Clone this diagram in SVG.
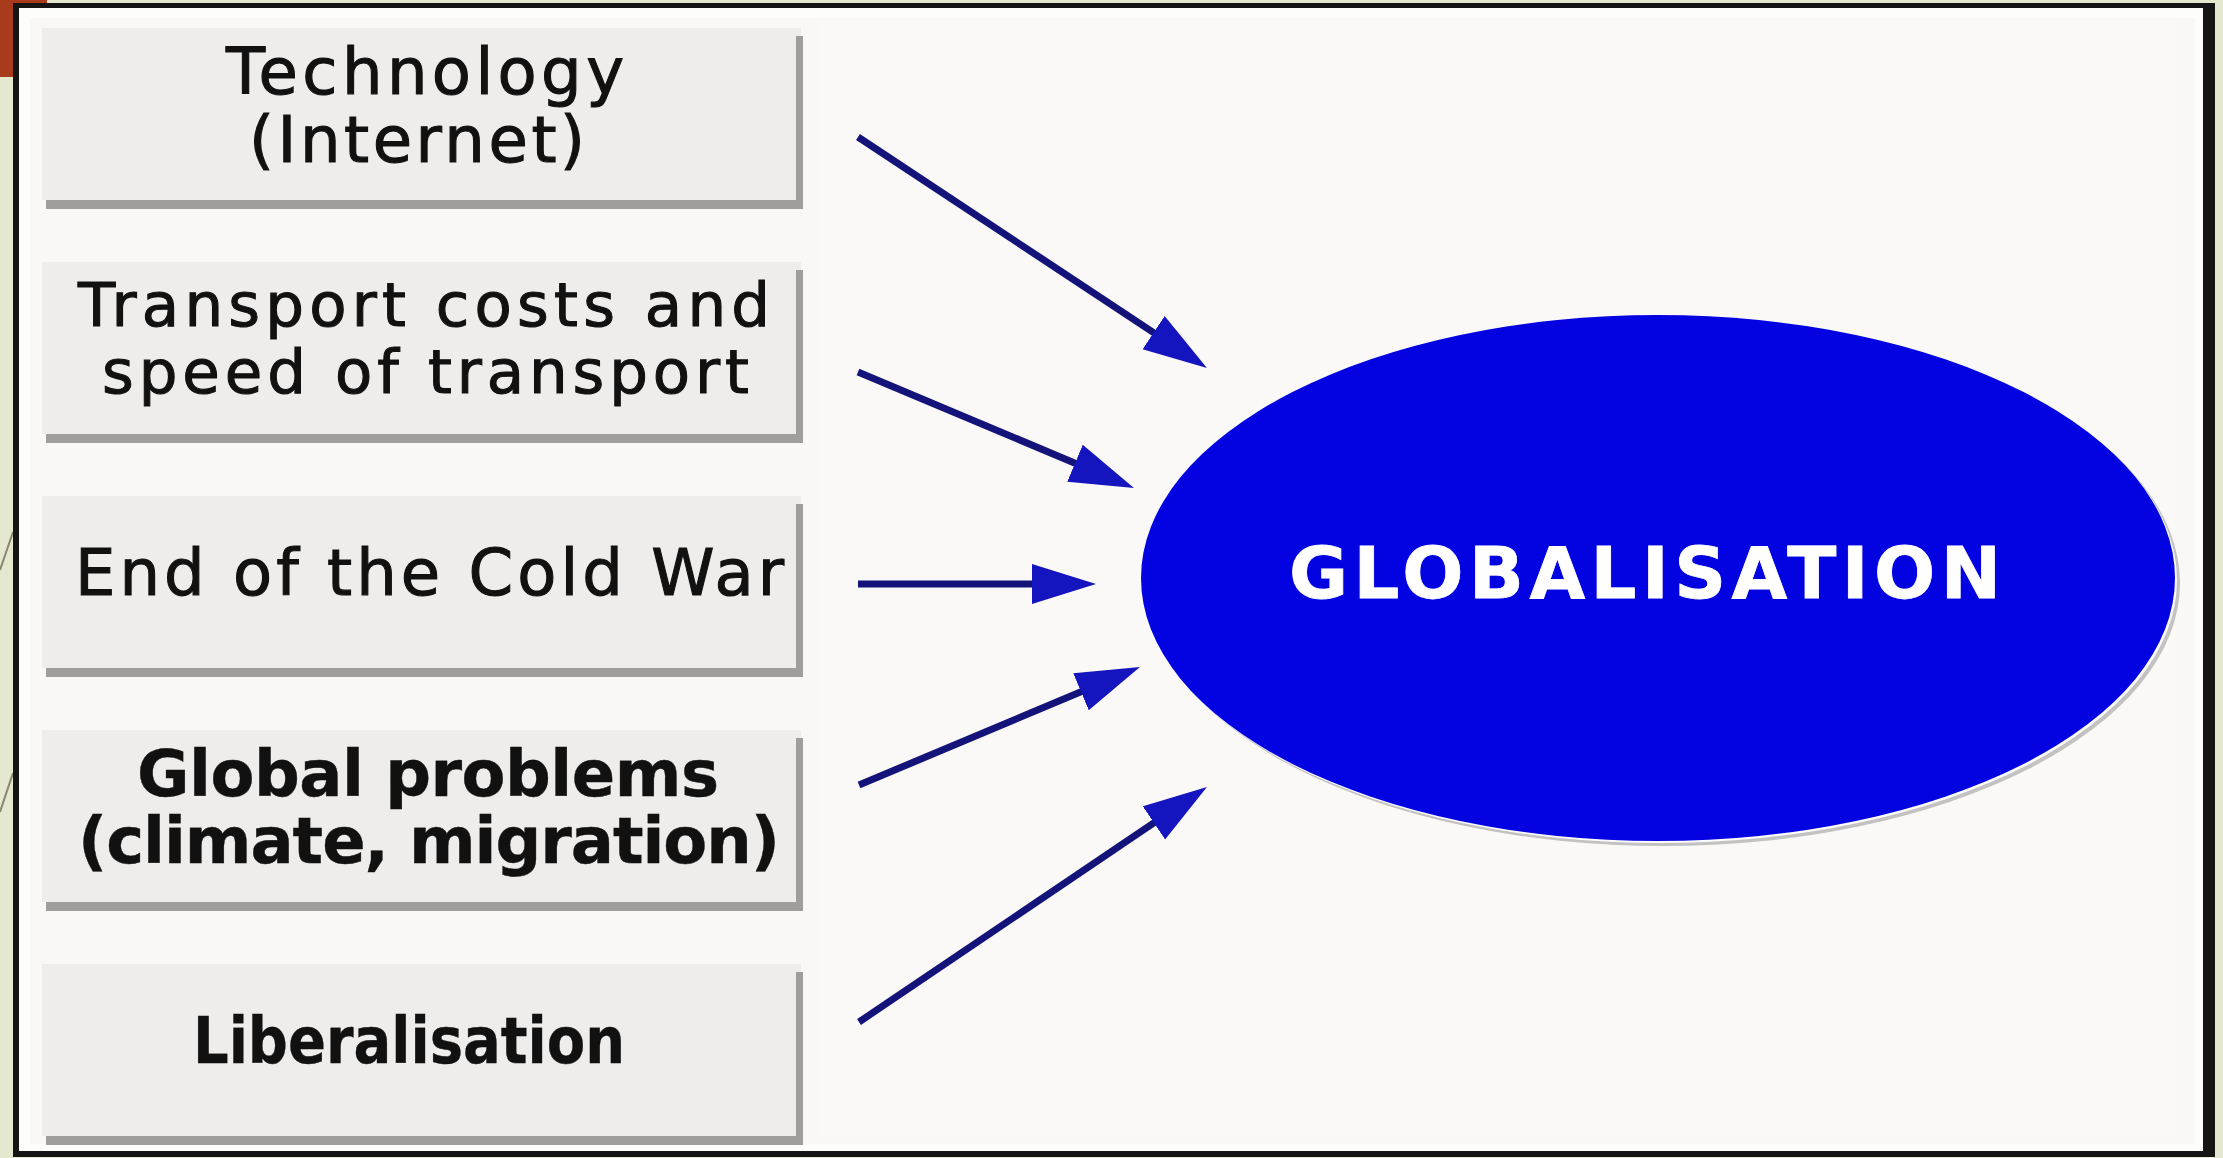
<svg xmlns="http://www.w3.org/2000/svg" width="2223" height="1158" viewBox="0 0 2223 1158">
  <style>
    .box { fill: #eeedeb; }
    .edge { fill: #a09e9c; }
    .lbl { font-family: "DejaVu Sans", Verdana, sans-serif; font-size: 64px; fill: #111111; stroke: #111111; stroke-width: 1.1px; }
    .sm { font-size: 61px; }
    .b { font-weight: bold; stroke-width: 0.4px; }
    .conn { stroke: #13137a; stroke-width: 7; fill: none; marker-end: url(#ah); }
    .deco { stroke: #8a8470; stroke-width: 2; }
  </style>
  <defs>
    <marker id="ah" markerUnits="userSpaceOnUse" markerWidth="66" markerHeight="42" viewBox="0 0 66 42" refX="24" refY="20" orient="auto">
      <path d="M0,0 L64,20 L0,40 Z" fill="#1515c0"/>
    </marker>
  </defs>

  <!-- slide background -->
  <rect x="0" y="0" width="2223" height="1158" fill="#e3e8cf"/>
  <rect x="0" y="0" width="47" height="77" fill="#a93a1c"/>
  <line class="deco" x1="13" y1="532" x2="0" y2="570"/>
  <line class="deco" x1="13" y1="773" x2="0" y2="812"/>

  <!-- picture frame -->
  <rect x="13" y="3" width="2202" height="1154" fill="#151515"/>
  <rect x="19" y="8" width="2184" height="1143" fill="#fdfdfc"/>
  <rect x="30" y="18" width="2165" height="1126" fill="#f9f8f6"/>
  <rect x="820" y="22" width="1355" height="1115" fill="#faf9f7"/>

  <!-- nodes -->
  <g id="node-technology">
    <rect class="box" x="42" y="28" width="759" height="172"/>
    <rect class="edge" x="796" y="36" width="7" height="173"/>
    <rect class="edge" x="46" y="200" width="757" height="9"/>
    <text class="lbl" x="226" y="94" textLength="398" lengthAdjust="spacing">Technology</text>
    <text class="lbl" x="249" y="162" textLength="336" lengthAdjust="spacing">(Internet)</text>
  </g>
  <g id="node-transport">
    <rect class="box" x="42" y="262" width="759" height="172"/>
    <rect class="edge" x="796" y="270" width="7" height="173"/>
    <rect class="edge" x="46" y="434" width="757" height="9"/>
    <text class="lbl sm" x="78" y="326" textLength="692" lengthAdjust="spacing">Transport costs and</text>
    <text class="lbl sm" x="102" y="393" textLength="647" lengthAdjust="spacing">speed of transport</text>
  </g>
  <g id="node-coldwar">
    <rect class="box" x="42" y="496" width="759" height="172"/>
    <rect class="edge" x="796" y="504" width="7" height="173"/>
    <rect class="edge" x="46" y="668" width="757" height="9"/>
    <text class="lbl" x="75" y="595" textLength="709" lengthAdjust="spacing">End of the Cold War</text>
  </g>
  <g id="node-global">
    <rect class="box" x="42" y="730" width="759" height="172"/>
    <rect class="edge" x="796" y="738" width="7" height="173"/>
    <rect class="edge" x="46" y="902" width="757" height="9"/>
    <text class="lbl b" x="137" y="796" textLength="582" lengthAdjust="spacing">Global problems</text>
    <text class="lbl b" x="78" y="863" textLength="702" lengthAdjust="spacing">(climate, migration)</text>
  </g>
  <g id="node-liberalisation">
    <rect class="box" x="42" y="964" width="759" height="172"/>
    <rect class="edge" x="796" y="972" width="7" height="173"/>
    <rect class="edge" x="46" y="1136" width="757" height="9"/>
    <text class="lbl b" x="193" y="1063" textLength="432" lengthAdjust="spacingAndGlyphs">Liberalisation</text>
  </g>
  <g id="node-globalisation">
    <ellipse cx="1663" cy="583" rx="517" ry="263" fill="#c2c2c2"/>
    <ellipse cx="1660" cy="580" rx="517" ry="263" fill="#fbfbfb"/>
    <ellipse cx="1658" cy="578" rx="517" ry="263" fill="#0303e2"/>
    <text x="1289" y="598" font-family="'DejaVu Sans', Verdana, sans-serif" font-size="72" font-weight="bold" fill="#ffffff" stroke="#ffffff" stroke-width="0.8" textLength="712" lengthAdjust="spacing">GLOBALISATION</text>
  </g>

  <!-- connectors -->
  <g id="connectors">
    <line class="conn" x1="858" y1="137" x2="1173.6" y2="345.9"/>
    <line class="conn" x1="858" y1="372" x2="1097.1" y2="472.5"/>
    <line class="conn" x1="858" y1="584" x2="1056" y2="584"/>
    <line class="conn" x1="859" y1="785" x2="1103.1" y2="682.5"/>
    <line class="conn" x1="859" y1="1022" x2="1173.8" y2="809.4"/>
  </g>
</svg>
